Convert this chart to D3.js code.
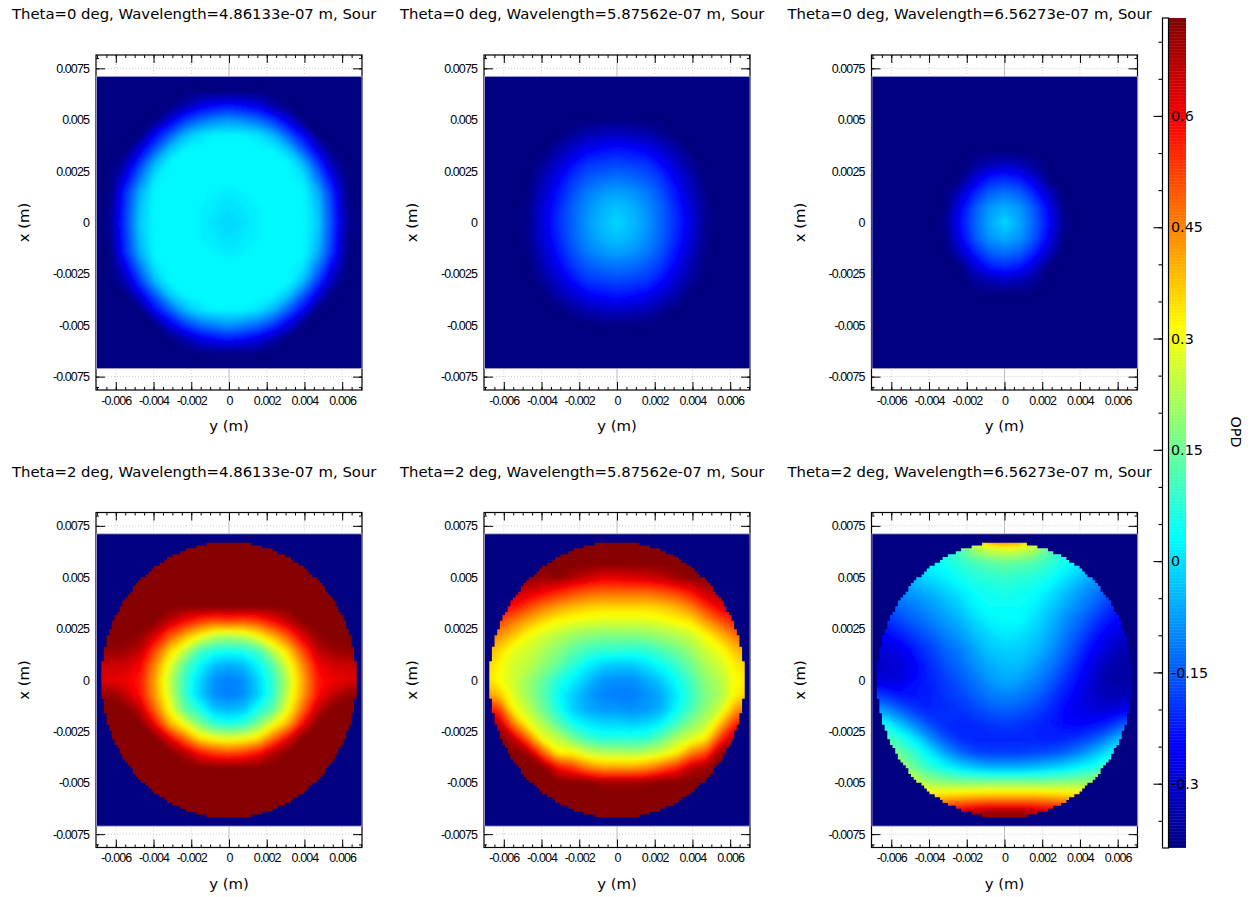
<!DOCTYPE html>
<html>
<head>
<meta charset="utf-8">
<title>OPD maps</title>
<script src="https://d3js.org/d3.v7.min.js"></script>
<style>
  html, body { margin: 0; padding: 0; background: #fff; }
  svg { display: block; }
  text { fill: #000; }
  .title, .label { font-family: "DejaVu Sans", sans-serif; font-size: 14.85px; }
  .bar text { font-family: "DejaVu Sans", sans-serif; font-size: 14.3px; }
  .ticks text { font-family: "Liberation Sans", sans-serif; font-size: 12.5px; letter-spacing: -0.9px; }
</style>
</head>
<body>
<script>
// panel titles, left to right then top to bottom
var titles = [
    'Theta=0 deg, Wavelength=4.86133e-07 m, Sour',
    'Theta=0 deg, Wavelength=5.87562e-07 m, Sour',
    'Theta=0 deg, Wavelength=6.56273e-07 m, Sour',
    'Theta=2 deg, Wavelength=4.86133e-07 m, Sour',
    'Theta=2 deg, Wavelength=5.87562e-07 m, Sour',
    'Theta=2 deg, Wavelength=6.56273e-07 m, Sour'
];

// axis ticks
var xTicks = [-0.006, -0.004, -0.002, 0, 0.002, 0.004, 0.006];
var xTickLabels = ['-0.006', '-0.004', '-0.002', '0', '0.002', '0.004', '0.006'];
var yTicks = [-0.0075, -0.005, -0.0025, 0, 0.0025, 0.005, 0.0075];
var yTickLabels = ['-0.0075', '-0.005', '-0.0025', '0', '0.0025', '0.005', '0.0075'];
var barTicks = [-0.3, -0.15, 0, 0.15, 0.3, 0.45, 0.6];
var barTickLabels = ['-0.3', '-0.15', '0', '0.15', '0.3', '0.45', '0.6'];

// colour map of the OPD bar
var barDomain = [-0.386, 0.732];
var jetColors = ['#000080', '#0000ff', '#0080ff', '#00ffff', '#80ff80', '#ffff00', '#ff8000', '#ff0000', '#800000'];

// OPD in hundredths, rows from top to bottom
var opdT0W486 = [
    [-39,-39,-39,-39,-39,-39,-39,-39,-39,-39,-39,-39,-39,-39,-39,-39,-39,-39,-39],
    [-39,-39,-39,-39,-39,-39,-39,-39,-39,-39,-39,-39,-39,-39,-39,-39,-39,-39,-39],
    [-39,-39,-39,-39,-39,-39,-34,-28,-25,-23,-25,-28,-34,-39,-39,-39,-39,-39,-39],
    [-39,-39,-39,-39,-38,-28,-19,-13,-10,-8,-10,-13,-19,-28,-38,-39,-39,-39,-39],
    [-39,-39,-39,-39,-25,-15,-5,0,2,2,2,0,-5,-15,-25,-39,-39,-39,-39],
    [-39,-39,-39,-28,-15,-3,2,3,3,3,3,3,2,-3,-15,-28,-39,-39,-39],
    [-39,-39,-33,-18,-4,3,3,3,3,3,3,3,3,3,-4,-18,-33,-39,-39],
    [-39,-39,-26,-11,1,3,3,3,3,3,3,3,3,3,1,-11,-26,-39,-39],
    [-39,-38,-20,-5,3,3,3,3,2,1,2,3,3,3,3,-5,-20,-38,-39],
    [-39,-37,-19,-3,3,3,3,2,1,0,1,2,3,3,3,-3,-19,-37,-39],
    [-39,-36,-18,-2,3,3,3,2,0,-1,0,2,3,3,3,-2,-18,-36,-39],
    [-39,-37,-19,-3,3,3,3,2,1,0,1,2,3,3,3,-3,-19,-37,-39],
    [-39,-38,-20,-5,3,3,3,3,2,1,2,3,3,3,3,-5,-20,-38,-39],
    [-39,-39,-26,-11,1,3,3,3,3,3,3,3,3,3,1,-11,-26,-39,-39],
    [-39,-39,-33,-18,-4,3,3,3,3,3,3,3,3,3,-4,-18,-33,-39,-39],
    [-39,-39,-39,-28,-15,-3,2,3,3,3,3,3,2,-3,-15,-28,-39,-39,-39],
    [-39,-39,-39,-39,-25,-15,-5,0,2,2,2,0,-5,-15,-25,-39,-39,-39,-39],
    [-39,-39,-39,-39,-38,-28,-19,-13,-10,-8,-10,-13,-19,-28,-38,-39,-39,-39,-39],
    [-39,-39,-39,-39,-39,-39,-34,-28,-25,-23,-25,-28,-34,-39,-39,-39,-39,-39,-39],
    [-39,-39,-39,-39,-39,-39,-39,-39,-39,-39,-39,-39,-39,-39,-39,-39,-39,-39,-39],
    [-39,-39,-39,-39,-39,-39,-39,-39,-39,-39,-39,-39,-39,-39,-39,-39,-39,-39,-39]
];
var opdT0W588 = [
    [-39,-39,-39,-39,-39,-39,-39,-39,-39,-39,-39,-39,-39,-39,-39,-39,-39,-39,-39],
    [-39,-39,-39,-39,-39,-39,-39,-39,-39,-39,-39,-39,-39,-39,-39,-39,-39,-39,-39],
    [-39,-39,-39,-39,-39,-39,-39,-39,-39,-39,-39,-39,-39,-39,-39,-39,-39,-39,-39],
    [-39,-39,-39,-39,-39,-39,-39,-39,-38,-38,-38,-39,-39,-39,-39,-39,-39,-39,-39],
    [-39,-39,-39,-39,-39,-39,-36,-33,-32,-31,-32,-33,-36,-39,-39,-39,-39,-39,-39],
    [-39,-39,-39,-39,-39,-34,-30,-26,-24,-23,-24,-26,-30,-34,-39,-39,-39,-39,-39],
    [-39,-39,-39,-39,-36,-30,-24,-19,-18,-17,-18,-19,-24,-30,-36,-39,-39,-39,-39],
    [-39,-39,-39,-39,-33,-26,-19,-15,-13,-12,-13,-15,-19,-26,-33,-39,-39,-39,-39],
    [-39,-39,-39,-38,-31,-23,-16,-11,-8,-7,-8,-11,-16,-23,-31,-38,-39,-39,-39],
    [-39,-39,-39,-37,-29,-21,-14,-9,-5,-3,-5,-9,-14,-21,-29,-37,-39,-39,-39],
    [-39,-39,-39,-37,-28,-20,-14,-8,-4,-1,-4,-8,-14,-20,-28,-37,-39,-39,-39],
    [-39,-39,-39,-37,-29,-21,-14,-9,-5,-3,-5,-9,-14,-21,-29,-37,-39,-39,-39],
    [-39,-39,-39,-38,-31,-23,-16,-11,-8,-7,-8,-11,-16,-23,-31,-38,-39,-39,-39],
    [-39,-39,-39,-39,-33,-26,-19,-15,-13,-12,-13,-15,-19,-26,-33,-39,-39,-39,-39],
    [-39,-39,-39,-39,-36,-30,-24,-19,-18,-17,-18,-19,-24,-30,-36,-39,-39,-39,-39],
    [-39,-39,-39,-39,-39,-34,-30,-26,-24,-23,-24,-26,-30,-34,-39,-39,-39,-39,-39],
    [-39,-39,-39,-39,-39,-39,-36,-33,-32,-31,-32,-33,-36,-39,-39,-39,-39,-39,-39],
    [-39,-39,-39,-39,-39,-39,-39,-39,-38,-38,-38,-39,-39,-39,-39,-39,-39,-39,-39],
    [-39,-39,-39,-39,-39,-39,-39,-39,-39,-39,-39,-39,-39,-39,-39,-39,-39,-39,-39],
    [-39,-39,-39,-39,-39,-39,-39,-39,-39,-39,-39,-39,-39,-39,-39,-39,-39,-39,-39],
    [-39,-39,-39,-39,-39,-39,-39,-39,-39,-39,-39,-39,-39,-39,-39,-39,-39,-39,-39]
];
var opdT0W656 = [
    [-39,-39,-39,-39,-39,-39,-39,-39,-39,-39,-39,-39,-39,-39,-39,-39,-39,-39,-39],
    [-39,-39,-39,-39,-39,-39,-39,-39,-39,-39,-39,-39,-39,-39,-39,-39,-39,-39,-39],
    [-39,-39,-39,-39,-39,-39,-39,-39,-39,-39,-39,-39,-39,-39,-39,-39,-39,-39,-39],
    [-39,-39,-39,-39,-39,-39,-39,-39,-39,-39,-39,-39,-39,-39,-39,-39,-39,-39,-39],
    [-39,-39,-39,-39,-39,-39,-39,-39,-39,-39,-39,-39,-39,-39,-39,-39,-39,-39,-39],
    [-39,-39,-39,-39,-39,-39,-39,-39,-39,-39,-39,-39,-39,-39,-39,-39,-39,-39,-39],
    [-39,-39,-39,-39,-39,-39,-39,-36,-33,-32,-33,-36,-39,-39,-39,-39,-39,-39,-39],
    [-39,-39,-39,-39,-39,-39,-38,-29,-22,-20,-22,-29,-38,-39,-39,-39,-39,-39,-39],
    [-39,-39,-39,-39,-39,-39,-31,-21,-14,-12,-14,-21,-31,-39,-39,-39,-39,-39,-39],
    [-39,-39,-39,-39,-39,-38,-26,-15,-8,-5,-8,-15,-26,-38,-39,-39,-39,-39,-39],
    [-39,-39,-39,-39,-39,-37,-24,-14,-6,-1,-6,-14,-24,-37,-39,-39,-39,-39,-39],
    [-39,-39,-39,-39,-39,-38,-26,-15,-8,-5,-8,-15,-26,-38,-39,-39,-39,-39,-39],
    [-39,-39,-39,-39,-39,-39,-31,-21,-14,-12,-14,-21,-31,-39,-39,-39,-39,-39,-39],
    [-39,-39,-39,-39,-39,-39,-38,-29,-22,-20,-22,-29,-38,-39,-39,-39,-39,-39,-39],
    [-39,-39,-39,-39,-39,-39,-39,-36,-33,-32,-33,-36,-39,-39,-39,-39,-39,-39,-39],
    [-39,-39,-39,-39,-39,-39,-39,-39,-39,-39,-39,-39,-39,-39,-39,-39,-39,-39,-39],
    [-39,-39,-39,-39,-39,-39,-39,-39,-39,-39,-39,-39,-39,-39,-39,-39,-39,-39,-39],
    [-39,-39,-39,-39,-39,-39,-39,-39,-39,-39,-39,-39,-39,-39,-39,-39,-39,-39,-39],
    [-39,-39,-39,-39,-39,-39,-39,-39,-39,-39,-39,-39,-39,-39,-39,-39,-39,-39,-39],
    [-39,-39,-39,-39,-39,-39,-39,-39,-39,-39,-39,-39,-39,-39,-39,-39,-39,-39,-39],
    [-39,-39,-39,-39,-39,-39,-39,-39,-39,-39,-39,-39,-39,-39,-39,-39,-39,-39,-39]
];
var opdT2W486 = [
    [73,73,73,73,73,73,73,73,73,73,73,73,73,73,73,73,73,73,73],
    [73,73,73,73,73,73,73,73,73,73,73,73,73,73,73,73,73,73,73],
    [73,73,73,73,73,73,73,73,73,73,73,73,73,73,73,73,73,73,73],
    [73,73,73,73,73,73,73,73,73,73,73,73,73,73,73,73,73,73,73],
    [73,73,73,73,73,73,73,73,73,73,73,73,73,73,73,73,73,73,73],
    [73,73,73,73,73,73,72,73,73,73,73,73,72,73,73,73,73,73,73],
    [73,73,73,73,72,66,59,53,50,52,50,53,59,66,72,73,73,73,73],
    [73,73,73,71,63,50,40,31,24,22,24,31,40,50,63,71,73,73,73],
    [72,71,70,66,52,36,24,11,6,5,6,11,24,36,52,66,70,71,72],
    [66,65,64,60,44,28,13,3,-4,-6,-4,3,13,28,44,60,64,65,66],
    [63,62,61,57,41,24,9,-1,-9,-11,-9,-1,9,24,41,57,61,62,63],
    [72,71,66,58,42,26,9,-2,-9,-11,-9,-2,9,26,42,58,66,71,72],
    [73,73,73,66,48,30,14,6,-3,-5,-3,6,14,30,48,66,73,73,73],
    [73,73,73,73,60,40,29,17,8,6,8,17,29,40,60,73,73,73,73],
    [73,73,73,73,73,62,48,35,30,28,30,35,48,62,73,73,73,73,73],
    [73,73,73,73,73,73,68,59,54,52,54,59,68,73,73,73,73,73,73],
    [73,73,73,73,73,73,73,73,73,73,73,73,73,73,73,73,73,73,73],
    [73,73,73,73,73,73,73,73,73,73,73,73,73,73,73,73,73,73,73],
    [73,73,73,73,73,73,73,73,73,73,73,73,73,73,73,73,73,73,73],
    [73,73,73,73,73,73,73,73,73,73,73,73,73,73,73,73,73,73,73],
    [73,73,73,73,73,73,73,73,73,73,73,73,73,73,73,73,73,73,73]
];
var opdT2W588 = [
    [73,73,73,73,73,73,73,73,73,73,73,73,73,73,73,73,73,73,73],
    [73,73,73,73,73,73,73,73,73,73,73,73,73,73,73,73,73,73,73],
    [73,73,73,73,73,73,73,73,73,73,73,73,73,73,73,73,73,73,73],
    [72,72,72,72,70,72,68,65,62,62,63,64,66,70,72,72,72,72,72],
    [68,68,66,64,60,56,52,49,48,48,48,48,50,53,58,66,68,68,68],
    [60,60,58,52,46,42,39,37,36,36,36,36,37,40,45,54,62,64,64],
    [56,52,46,40,35,31,29,28,27,27,27,27,29,31,34,42,50,56,60],
    [48,43,37,30,26,23,20,18,17,17,17,18,20,22,25,31,38,46,50],
    [41,36,28,26,22,18,13,10,8,8,7,8,11,15,20,26,30,38,42],
    [37,32,26,24,19,14,8,2,-2,-3,-3,0,4,9,15,22,26,33,37],
    [36,31,26,20,14,7,2,-3,-8,-9,-9,-6,-2,4,11,19,23,31,35],
    [42,38,27,20,13,4,-2,-7,-10,-11,-11,-9,-6,1,9,17,22,32,37],
    [58,54,31,24,15,6,-2,-6,-8,-8,-9,-8,-5,3,11,19,26,42,46],
    [72,68,46,30,22,13,5,1,-1,-1,-2,-1,3,10,18,24,38,56,60],
    [73,73,66,48,29,24,16,10,7,7,7,8,14,22,27,33,54,68,72],
    [73,73,73,70,50,33,32,26,23,23,22,24,27,33,45,52,71,73,73],
    [73,73,73,73,73,60,54,46,42,42,42,44,50,56,66,70,73,73,73],
    [73,73,73,73,73,73,73,73,70,70,70,71,73,73,73,73,73,73,73],
    [73,73,73,73,73,73,73,73,73,73,73,73,73,73,73,73,73,73,73],
    [73,73,73,73,73,73,73,73,73,73,73,73,73,73,73,73,73,73,73],
    [73,73,73,73,73,73,73,73,73,73,73,73,73,73,73,73,73,73,73]
];
var opdT2W656 = [
    [10,10,10,10,10,10,20,40,60,66,60,40,20,10,10,10,10,10,10],
    [8,8,8,8,8,8,14,22,27,29,28,23,14,8,8,8,8,8,8],
    [0,0,0,2,3,5,8,11,13,14,13,12,9,5,2,0,-2,-2,-2],
    [-6,-6,-6,-3,0,2,5,7,8,9,8,7,5,1,-3,-7,-10,-10,-10],
    [-12,-12,-9,-7,-5,-2,1,4,5,6,5,4,1,-3,-7,-11,-15,-17,-17],
    [-17,-16,-13,-11,-8,-5,-2,2,4,4,4,2,-2,-6,-10,-14,-19,-22,-22],
    [-22,-20,-17,-14,-11,-8,-5,-1,2,3,3,0,-4,-9,-13,-18,-23,-26,-27],
    [-26,-25,-22,-18,-15,-11,-8,-4,-1,1,0,-2,-6,-11,-16,-22,-27,-30,-31],
    [-30,-29,-27,-22,-18,-14,-11,-7,-3,-2,-2,-4,-8,-13,-19,-25,-30,-33,-34],
    [-31,-31,-29,-25,-20,-16,-13,-9,-6,-4,-4,-7,-11,-16,-22,-28,-33,-35,-35],
    [-28,-29,-28,-24,-21,-18,-15,-12,-8,-6,-7,-10,-14,-19,-24,-30,-34,-35,-34],
    [-18,-20,-23,-23,-22,-19,-17,-14,-11,-10,-11,-13,-17,-22,-26,-31,-33,-33,-32],
    [-6,-10,-15,-19,-21,-20,-19,-17,-15,-14,-15,-17,-20,-24,-27,-29,-29,-27,-26],
    [8,3,-4,-11,-17,-20,-21,-20,-19,-18,-19,-20,-22,-24,-25,-24,-21,-16,-12],
    [18,12,7,0,-9,-16,-20,-21,-21,-21,-21,-21,-22,-21,-19,-16,-10,-3,2],
    [25,20,14,8,1,-7,-13,-17,-18,-18,-18,-17,-16,-14,-10,-5,1,5,9],
    [34,28,22,14,8,4,0,-3,-5,-5,-5,-4,-2,0,3,6,12,18,24],
    [48,40,32,25,20,18,17,17,17,17,17,17,17,18,19,20,26,34,42],
    [40,40,40,38,36,38,39,40,41,41,41,41,40,39,37,36,40,40,40],
    [60,60,60,60,60,62,65,68,70,70,70,68,65,62,60,60,60,60,60],
    [73,73,73,73,73,73,73,73,73,73,73,73,73,73,73,73,73,73,73]
];
var panelGrids = [opdT0W486, opdT0W588, opdT0W656, opdT2W486, opdT2W588, opdT2W656];
// only the theta=2 panels show the hard pupil edge
var panelHasPupil = [false, false, false, true, true, true];

// layout
var plotLefts = [96, 484, 871.5];
var plotTops = [55, 512.5];
var plotWidth = 266;
var plotHeight = 335;
var xDomain = 0.00705;
var yDomain = 0.00815;
var heatDomain = 0.00711;
var pupilRadius = 0.0067;
var pupilPixels = 101;
var levelStep = 0.01;

var colorScale = d3.scaleLinear()
    .domain(jetColors.map(function(d, i) {
        return barDomain[0] + i / (jetColors.length - 1) * (barDomain[1] - barDomain[0]);
    }))
    .range(jetColors);

// one filled band per level, the grid itself stays as read
var levels = d3.range(barDomain[0] + 0.006, barDomain[1] - 0.005, levelStep);

var svg = d3.select('body').append('svg')
    .attr('width', 1255)
    .attr('height', 897);

// slight softening, the reference is a resampled screenshot
svg.append('filter')
    .attr('id', 'soft')
    .attr('x', '-5%').attr('y', '-5%')
    .attr('width', '110%').attr('height', '110%')
    .append('feGaussianBlur')
    .attr('stdDeviation', 2);

function addTicks(parent, axis, scale, values, size, labels) {
    /*
    This function draws one axis of the frame with inward ticks.

    parent: the panel group
    axis: d3 axis generator
    scale: scale of the axis
    values: tick values
    size: tick length, negative draws inward
    labels: tick labels or null for no text
    */
    var g = parent.append('g')
        .attr('class', 'ticks')
        .call(axis(scale)
            .tickValues(values)
            .tickSizeInner(size)
            .tickSizeOuter(0)
            .tickPadding(labels ? -size + 6 : 0)
            .tickFormat(function(d, i) { return labels ? labels[i] : ''; }));
    g.selectAll('line').attr('stroke', '#000');
    g.select('.domain').remove();
    return g;
}

function pupilOutline(x, y) {
    /*
    This function gives the staircase outline of the pupil as one path.

    x: panel x scale
    y: panel y scale
    */
    var px = d3.scaleLinear().domain([0, pupilPixels]).range([-xDomain, xDomain]);
    var py = d3.scaleLinear().domain([0, pupilPixels]).range([heatDomain, -heatDomain]);
    var right = [];
    var left = [];
    var middle = Math.floor(pupilPixels / 2);

    d3.range(pupilPixels).forEach(function(j) {
        var v = py(j + 0.5);
        var half = pupilRadius * pupilRadius - v * v;
        if (half > 0) {
            var edge = Math.round(Math.sqrt(half) / (2 * xDomain) * pupilPixels);
            var x0 = x(px(middle - edge));
            var x1 = x(px(middle + edge + 1));
            right.push([x1, y(py(j))], [x1, y(py(j + 1))]);
            left.push([x0, y(py(j))], [x0, y(py(j + 1))]);
        }
    });
    return d3.line()(right.concat(left.reverse())) + 'Z';
}

function drawPanel(index) {
    /*
    This function draws one OPD map with its frame and labels.

    index: position of the panel in titles and panelGrids
    */
    var left = plotLefts[index % 3];
    var top = plotTops[Math.floor(index / 3)];
    var x = d3.scaleLinear().domain([-xDomain, xDomain]).range([0, plotWidth]);
    var y = d3.scaleLinear().domain([-yDomain, yDomain]).range([plotHeight, 0]);
    var panel = svg.append('g').attr('transform', 'translate(' + left + ',' + top + ')');

    // dotted grid, only seen above and below the map
    panel.append('g').selectAll('line')
        .data(xTicks)
        .join('line')
        .attr('x1', x).attr('x2', x)
        .attr('y1', 0).attr('y2', plotHeight)
        .attr('stroke', function(d) { return d == 0 ? '#bbb' : '#ccc'; })
        .attr('stroke-dasharray', function(d) { return d == 0 ? null : '1,2'; });
    panel.append('g').selectAll('line')
        .data(yTicks)
        .join('line')
        .attr('y1', y).attr('y2', y)
        .attr('x1', 0).attr('x2', plotWidth)
        .attr('stroke', '#ccc')
        .attr('stroke-dasharray', '1,2');

    // ticks on all four sides
    var xMinor = d3.range(-0.007, 0.00701, 0.0005);
    var yMinor = d3.range(-0.008, 0.00801, 0.0005);
    addTicks(panel.append('g').attr('transform', 'translate(0,' + plotHeight + ')'),
        d3.axisBottom, x, xMinor, -3, null);
    addTicks(panel.append('g').attr('transform', 'translate(0,' + plotHeight + ')'),
        d3.axisBottom, x, xTicks, -8, xTickLabels).selectAll('text').attr('dy', '0.71em').attr('y', 6);
    addTicks(panel, d3.axisTop, x, xMinor, -3, null);
    addTicks(panel, d3.axisTop, x, xTicks, -8, null);
    addTicks(panel, d3.axisLeft, y, yMinor, -3, null);
    addTicks(panel, d3.axisLeft, y, yTicks, -9, yTickLabels).selectAll('text').attr('x', -7);
    addTicks(panel.append('g').attr('transform', 'translate(' + plotWidth + ',0)'),
        d3.axisRight, y, yMinor, -3, null);
    addTicks(panel.append('g').attr('transform', 'translate(' + plotWidth + ',0)'),
        d3.axisRight, y, yTicks, -9, null);

    panel.append('rect')
        .attr('width', plotWidth)
        .attr('height', plotHeight)
        .attr('fill', 'none')
        .attr('stroke', '#000')
        .attr('stroke-width', 1.2);

    // the map lies on top of the ticks
    var grid = panelGrids[index];
    var rows = grid.length;
    var cols = grid[0].length;
    var heatTop = y(heatDomain);
    var heatBottom = y(-heatDomain);
    var heat = panel.append('g');
    heat.append('rect')
        .attr('x', 0.5)
        .attr('y', heatTop)
        .attr('width', plotWidth - 0.5)
        .attr('height', heatBottom - heatTop)
        .attr('fill', colorScale(barDomain[0]))
        .attr('stroke', '#a9a9d6')
        .attr('stroke-width', 0.8);

    // clip of the map: the full rectangle, or the pixelated pupil
    var clipId = 'clip' + index;
    var clip = svg.append('clipPath').attr('id', clipId);
    if (panelHasPupil[index]) {
        clip.append('path').attr('d', pupilOutline(x, y));
    }
    else {
        clip.append('rect')
            .attr('x', 0)
            .attr('y', heatTop)
            .attr('width', plotWidth)
            .attr('height', heatBottom - heatTop);
    }

    // contour grid positions to panel pixels
    var colScale = d3.scaleLinear().domain([0.5, cols - 0.5]).range([x(-xDomain), x(xDomain)]);
    var rowScale = d3.scaleLinear().domain([0.5, rows - 0.5]).range([heatTop, heatBottom]);
    var path = d3.geoPath(d3.geoTransform({
        point: function(cx, cy) { this.stream.point(colScale(cx), rowScale(cy)); }
    }));
    var bands = d3.contours()
        .size([cols, rows])
        .thresholds(levels)(d3.merge(grid).map(function(d) { return d / 100; }));

    heat.append('g')
        .attr('clip-path', 'url(#' + clipId + ')')
        .append('g')
        .attr('filter', 'url(#soft)')
        .selectAll('path')
        .data(bands)
        .join('path')
        .attr('d', path)
        .attr('fill', function(d) { return colorScale(d.value + levelStep / 2); });

    // texts
    panel.append('text')
        .attr('class', 'title')
        .attr('x', -84)
        .attr('y', -36)
        .text(titles[index]);
    panel.append('text')
        .attr('class', 'label')
        .attr('text-anchor', 'middle')
        .attr('x', plotWidth / 2)
        .attr('y', plotHeight + 41)
        .text('y (m)');
    panel.append('text')
        .attr('class', 'label')
        .attr('text-anchor', 'middle')
        .attr('transform', 'translate(-67,' + plotHeight / 2 + ') rotate(-90)')
        .text('x (m)');
}

function drawBar() {
    /*
    This function draws the OPD colour bar on the right.
    */
    var barTop = 18;
    var barBottom = 847.5;
    var bar = svg.append('g').attr('class', 'bar');
    var y = d3.scaleLinear().domain(barDomain).range([barBottom, barTop]);
    var edges = d3.range(barDomain[0], barDomain[1], 0.002);

    bar.append('g').selectAll('rect')
        .data(edges)
        .join('rect')
        .attr('x', 1169)
        .attr('width', 17)
        .attr('y', function(d) { return y(d + 0.002); })
        .attr('height', y(0) - y(0.002) + 0.4)
        .attr('fill', function(d) { return colorScale(d + 0.001); });

    bar.append('rect')
        .attr('x', 1162.5)
        .attr('y', barTop)
        .attr('width', 6)
        .attr('height', barBottom - barTop + 0.5)
        .attr('fill', '#fff')
        .attr('stroke', '#000')
        .attr('stroke-width', 1.2);

    var axisG = bar.append('g').attr('transform', 'translate(1162.5,0)');
    axisG.append('g').call(d3.axisLeft(y)
        .tickValues(d3.range(-0.35, 0.701, 0.05))
        .tickSizeOuter(0)
        .tickSizeInner(4)
        .tickFormat(''));
    axisG.append('g').call(d3.axisLeft(y)
        .tickValues(barTicks)
        .tickSizeOuter(0)
        .tickSizeInner(9)
        .tickFormat(''));
    axisG.selectAll('.domain').remove();
    axisG.selectAll('line').attr('stroke', '#000').attr('stroke-width', 1.1);

    bar.append('g').selectAll('text')
        .data(barTicks)
        .join('text')
        .attr('x', 1171)
        .attr('y', y)
        .attr('dy', '0.36em')
        .text(function(d, i) { return barTickLabels[i]; });

    bar.append('text')
        .attr('text-anchor', 'middle')
        .attr('transform', 'translate(1231,432) rotate(90)')
        .text('OPD');
}

titles.forEach(function(d, i) { drawPanel(i); });
drawBar();
</script>
</body>
</html>
